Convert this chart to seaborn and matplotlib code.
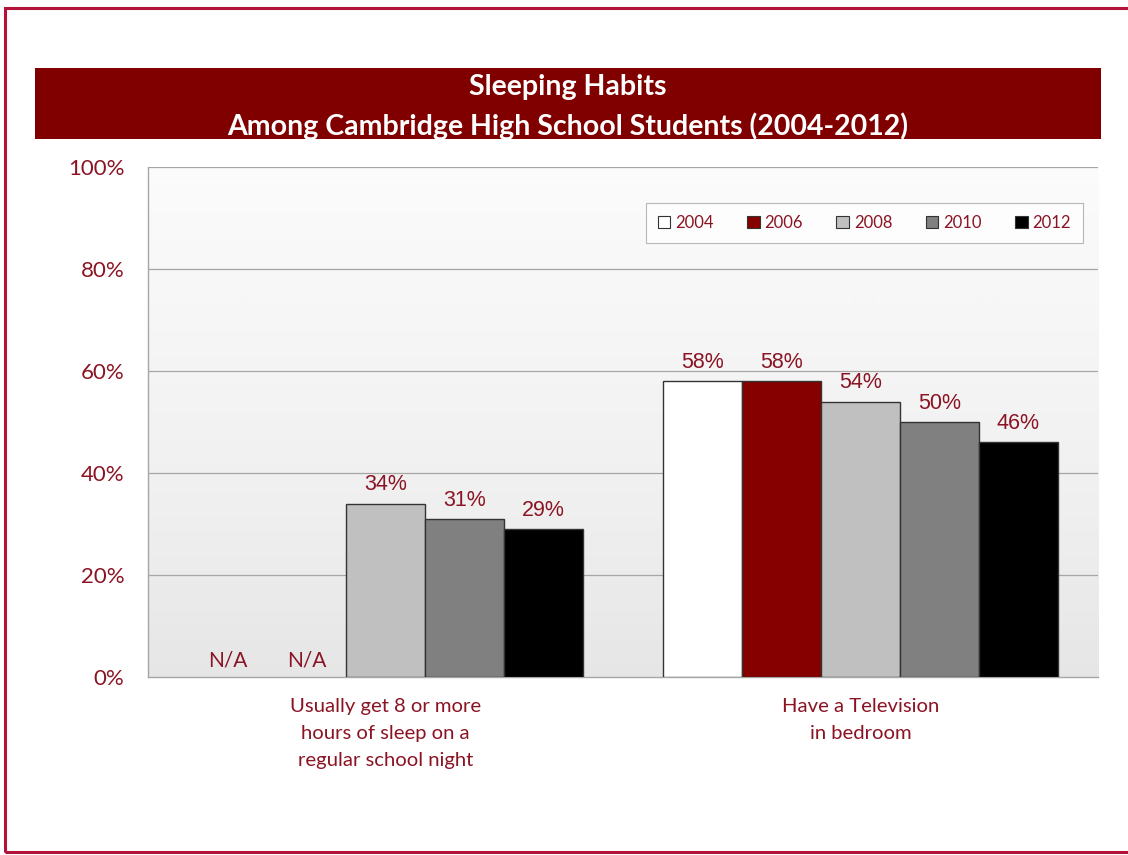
import numpy as np
import pandas as pd
import seaborn as sns
import matplotlib
matplotlib.use('Agg')
import matplotlib.pyplot as plt
from matplotlib.patches import Rectangle, Patch

# datos del grafico
categorias = ['Usually get 8 or more\nhours of sleep on a\nregular school night',
              'Have a Television\nin bedroom']
anos = ['2004', '2006', '2008', '2010', '2012']
sono_8h = [np.nan, np.nan, 34, 31, 29]
televisao = [58, 58, 54, 50, 46]
cores = ['#ffffff', '#870000', '#c0c0c0', '#808080', '#000000']

vermelho = '#8b1424'
fonte = ['Lato', 'DejaVu Sans']

linhas = []
for cat, vals in zip(categorias, [sono_8h, televisao]):
    for ano, v in zip(anos, vals):
        linhas.append({'cat': cat, 'ano': ano, 'valor': v})
df = pd.DataFrame(linhas)
df['plot'] = df['valor'].fillna(0)

sns.set_style('white')
plt.rcParams['font.family'] = fonte

fig = plt.figure(figsize=(11.28, 8.55), dpi=100)
ax = fig.add_axes([0.1312, 0.2082, 0.8422, 0.5965])

# fundo com gradiente
grad = np.linspace(0, 1, 256).reshape(-1, 1)
ax.imshow(grad, extent=[-0.5, 1.5, 0, 100], aspect='auto', cmap='Greys',
          vmin=-0.2, vmax=6.5, origin='upper', zorder=0)

sns.barplot(data=df, x='cat', y='plot', hue='ano', hue_order=anos, palette=cores,
            width=0.83, gap=0, edgecolor='#333333', linewidth=1, saturation=1,
            legend=False, ax=ax, zorder=3)

# rotulos das barras
for cont, ano in zip(ax.containers, anos):
    for barra, cat in zip(cont, categorias):
        v = df[(df['ano'] == ano) & (df['cat'] == cat)]['valor'].iloc[0]
        cx = barra.get_x() + barra.get_width() / 2
        if np.isnan(v):
            barra.set_linewidth(0)
            ax.text(cx, 1.3, 'N/A', ha='center', va='bottom', color=vermelho,
                    fontsize=15, zorder=5)
        else:
            ax.text(cx, v + 1.6, f'{v:.0f}%', ha='center', va='bottom', color=vermelho,
                    fontsize=15.5, family=['Liberation Sans'], zorder=5)

ax.set_xlim(-0.5, 1.5)
ax.set_ylim(0, 100)
ax.set_yticks([0, 20, 40, 60, 80, 100])
ax.set_yticklabels([f'{t}%' for t in [0, 20, 40, 60, 80, 100]], color=vermelho, fontsize=16)
ax.tick_params(axis='y', length=0, pad=17)
ax.tick_params(axis='x', length=0, pad=15)
ax.set_xticks([0, 1])
ax.set_xticklabels(categorias, color=vermelho, fontsize=14.6, linespacing=1.72, va='top')
ax.set_xlabel('')
ax.set_ylabel('')
for t in [20, 40, 60, 80, 100]:
    ax.axhline(t, color='#a6a6a6', linewidth=0.9, zorder=1)
for lado in ['top', 'right']:
    ax.spines[lado].set_visible(False)
for lado in ['left', 'bottom']:
    ax.spines[lado].set_color('#a6a6a6')
    ax.spines[lado].set_linewidth(1)

# legenda
handles = [Patch(facecolor=c, edgecolor='#333333', linewidth=0.8, label=a) for c, a in zip(cores, anos)]
leg = ax.legend(handles=handles, ncol=5, loc='upper right', bbox_to_anchor=(0.984, 0.929),
                borderaxespad=0, frameon=True, fancybox=False, fontsize=12, handlelength=0.75,
                handleheight=0.75, handletextpad=0.3, columnspacing=2.0, borderpad=0.7,
                labelcolor=vermelho)
leg.get_frame().set_edgecolor('#a6a6a6')
leg.get_frame().set_linewidth(0.8)

# faixa do titulo
fig.patches.append(Rectangle((0.031, 0.8374), 0.945, 0.0831, transform=fig.transFigure,
                             facecolor='#800000', edgecolor='none', zorder=0))
fig.text(0.503, 0.898, 'Sleeping Habits', ha='center', va='center', color='white',
         fontsize=20.5, fontweight='bold')
fig.text(0.503, 0.852, 'Among Cambridge High School Students (2004-2012)', ha='center',
         va='center', color='white', fontsize=20.5, fontweight='bold')

# moldura
fig.patches.append(Rectangle((0.0048, 0.003), 1.2, 0.988, transform=fig.transFigure,
                             facecolor='none', edgecolor='#b3123a', linewidth=2.2, zorder=10))

fig.savefig('out.png', dpi=100)
